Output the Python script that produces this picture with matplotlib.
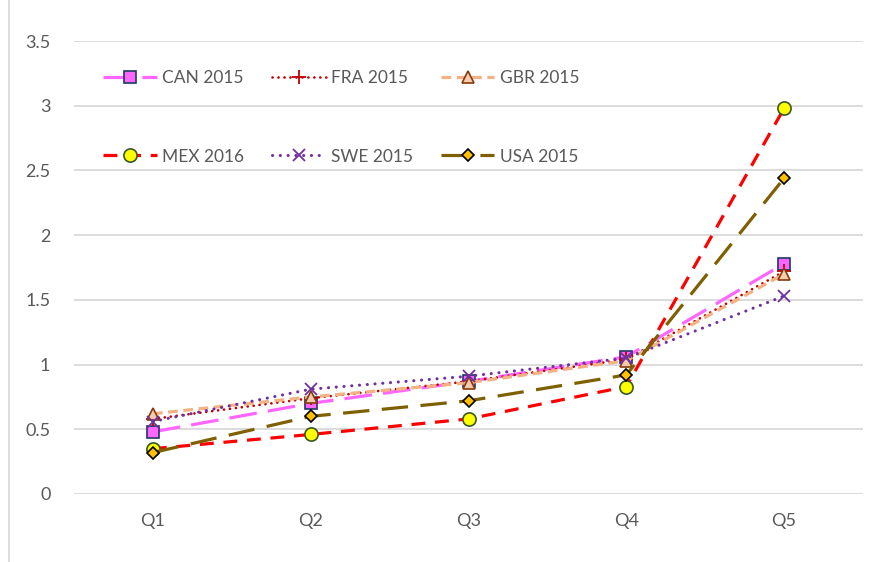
import matplotlib.pyplot as plt
from matplotlib.lines import Line2D

plt.rcParams['font.family'] = ['Lato', 'DejaVu Sans']
plt.rcParams['lines.scale_dashes'] = False

# quintis
quintis = ['Q1', 'Q2', 'Q3', 'Q4', 'Q5']

can_2015 = [0.48, 0.70, 0.87, 1.06, 1.78]
fra_2015 = [0.58, 0.74, 0.87, 1.04, 1.72]
gbr_2015 = [0.62, 0.75, 0.86, 1.03, 1.70]
mex_2016 = [0.35, 0.46, 0.58, 0.83, 2.98]
swe_2015 = [0.56, 0.81, 0.91, 1.05, 1.53]
usa_2015 = [0.32, 0.60, 0.72, 0.92, 2.44]

fig = plt.figure(figsize=(8.76, 5.62), dpi=100)
ax = fig.add_axes([74/876, 68/562, 789/876, 453/562])

x = range(len(quintis))

l_can, = ax.plot(x, can_2015, color='#FF66FF', lw=2.3, dashes=(20, 8), marker='s', ms=9,
                 mfc='#FF66FF', mec='#203864', mew=1.2, label='CAN 2015')
l_fra, = ax.plot(x, fra_2015, color='#C00000', lw=1.9, dashes=(0.1, 4.2), dash_capstyle='round',
                 marker='+', ms=10, mec='#C00000', mew=1.3, label='FRA 2015')
l_gbr, = ax.plot(x, gbr_2015, color='#F4B183', lw=2.3, dashes=(7, 4), marker='^', ms=9,
                 mfc='#F8CBAD', mec='#843C0C', mew=1.2, label='GBR 2015')
l_mex, = ax.plot(x, mex_2016, color='#FF0000', lw=2.3, dashes=(10, 7), marker='o', ms=9.5,
                 mfc='#FFFF00', mec='#385723', mew=1.2, label='MEX 2016')
l_swe, = ax.plot(x, swe_2015, color='#7030A0', lw=2.2, dashes=(0.1, 5.5), dash_capstyle='round',
                 marker='x', ms=9, mec='#7030A0', mew=1.3, label='SWE 2015')
l_usa, = ax.plot(x, usa_2015, color='#7F6000', lw=2.3, dashes=(19, 9), marker='D', ms=6.5,
                 mfc='#FFC000', mec='black', mew=1.2, label='USA 2015')

ax.set_xlim(-0.5, len(quintis) - 0.5)
ax.set_ylim(0, 3.5)
ax.set_yticks([0, 0.5, 1, 1.5, 2, 2.5, 3, 3.5])
ax.set_yticklabels(['0', '0.5', '1', '1.5', '2', '2.5', '3', '3.5'])
ax.set_xticks(list(x))
ax.set_xticklabels(quintis)
ax.tick_params(length=0, labelsize=13, labelcolor='#595959')
ax.tick_params(axis='y', pad=17)
ax.tick_params(axis='x', pad=14)
ax.grid(axis='y', color='#D9D9D9', lw=1.3)
ax.set_axisbelow(True)
for s in ax.spines.values():
    s.set_visible(False)

# legenda em linhas (matplotlib preenche por coluna)
ordem = [l_can, l_mex, l_fra, l_swe, l_gbr, l_usa]
leg = ax.legend(ordem, [l.get_label() for l in ordem], ncol=3, loc='upper left',
                bbox_to_anchor=(103/876, 1 - 70/562), bbox_transform=fig.transFigure,
                frameon=False, fontsize=12.5, handlelength=3.1, handletextpad=0.3,
                columnspacing=1.6, labelspacing=3.6, borderpad=0, borderaxespad=0)
for t in leg.get_texts():
    t.set_color('#595959')

# borda do gráfico
fig.add_artist(Line2D([9/876, 9/876], [0, 1], color='#D9D9D9', lw=1.3))

plt.savefig('out.png', dpi=100)
